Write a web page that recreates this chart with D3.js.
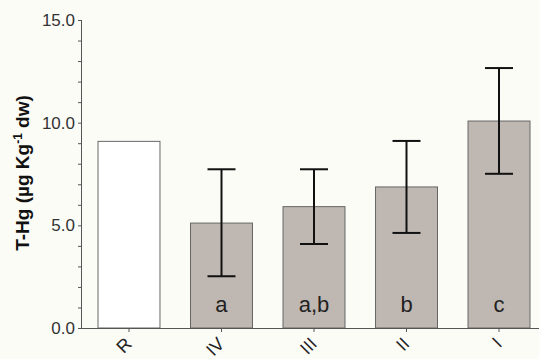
<!DOCTYPE html>
<html>
<head>
<meta charset="utf-8">
<script src="https://cdn.jsdelivr.net/npm/d3@7"></script>
<style>
    body { margin: 0; background: #fcfcf7; }
    svg { display: block; font-family: Arial, "Liberation Sans", sans-serif; }
</style>
</head>
<body>
<script>
// Chart size
const width = 539;
const height = 359;

// Data
const sites = ["R", "IV", "III", "II", "I"];
const means = [9.09, 5.11, 5.91, 6.87, 10.08];
const errUpper = [null, 7.73, 7.73, 9.11, 12.66];
const errLower = [null, 2.52, 4.09, 4.63, 7.51];
const groupLetters = ["", "a", "a,b", "b", "c"];
const yTicks = [0, 5, 10, 15];

const data = sites.map((s, i) => ({
    site: s,
    mean: means[i],
    hi: errUpper[i],
    lo: errLower[i],
    letter: groupLetters[i]
}));

const svg = d3.select("body")
    .append("svg")
    .attr("width", width)
    .attr("height", height);

// Scales
const xScale = d3.scaleBand()
    .domain(sites)
    .range([98, 530])
    .paddingInner(0.33)
    .paddingOuter(0);

const yScale = d3.scaleLinear()
    .domain([0, 15])
    .range([328, 20]);

// Bars
svg.selectAll("rect.bar")
    .data(data)
    .join("rect")
    .attr("class", "bar")
    .attr("x", d => xScale(d.site))
    .attr("y", d => yScale(d.mean))
    .attr("width", xScale.bandwidth())
    .attr("height", d => yScale(0) - yScale(d.mean))
    .attr("fill", d => d.site === "R" ? "#ffffff" : "#bfb7b1")
    .attr("stroke", "#666")
    .attr("stroke-width", 1);

// Error bars
const errData = data.filter(d => d.hi !== null);
const cx = d => xScale(d.site) + xScale.bandwidth() / 2;
const capHalf = 14;

svg.selectAll("line.err")
    .data(errData)
    .join("line")
    .attr("x1", cx).attr("x2", cx)
    .attr("y1", d => yScale(d.hi))
    .attr("y2", d => yScale(d.lo))
    .attr("stroke", "#111")
    .attr("stroke-width", 2);

["hi", "lo"].forEach(k => {
    svg.selectAll("line.cap-" + k)
        .data(errData)
        .join("line")
        .attr("class", "cap-" + k)
        .attr("x1", d => cx(d) - capHalf)
        .attr("x2", d => cx(d) + capHalf)
        .attr("y1", d => yScale(d[k]))
        .attr("y2", d => yScale(d[k]))
        .attr("stroke", "#111")
        .attr("stroke-width", 2);
});

// Group letters inside bars
svg.selectAll("text.letter")
    .data(data)
    .join("text")
    .attr("class", "letter")
    .attr("x", cx)
    .attr("y", 312)
    .attr("text-anchor", "middle")
    .attr("font-size", 22)
    .attr("fill", "#222")
    .text(d => d.letter);

// Y axis with minor ticks
const yAxis = d3.axisLeft(yScale)
    .tickValues(d3.range(0, 16, 1))
    .tickSize(4)
    .tickFormat(d => yTicks.includes(d) ? d3.format(".1f")(d) : "");

const yG = svg.append("g")
    .attr("transform", "translate(82,0)")
    .call(yAxis);
yG.select(".domain").attr("stroke", "#555").attr("d", `M-0.5,${yScale(15)}V${yScale(0)}`);
yG.selectAll(".tick line").attr("stroke", "#555");
yG.selectAll(".tick text")
    .attr("font-size", 17)
    .attr("fill", "#333")
    .attr("x", -7);

// X axis line and ticks
svg.append("line")
    .attr("x1", 82).attr("x2", width)
    .attr("y1", yScale(0) + 0.5).attr("y2", yScale(0) + 0.5)
    .attr("stroke", "#555");

svg.selectAll("line.xtick")
    .data(sites)
    .join("line")
    .attr("class", "xtick")
    .attr("x1", d => xScale(d) + xScale.bandwidth() / 2)
    .attr("x2", d => xScale(d) + xScale.bandwidth() / 2)
    .attr("y1", yScale(0))
    .attr("y2", yScale(0) + 4)
    .attr("stroke", "#555");

svg.selectAll("text.xlabel")
    .data(sites)
    .join("text")
    .attr("class", "xlabel")
    .attr("transform", d => `translate(${xScale(d) + xScale.bandwidth() / 2 + 4},${yScale(0) + 17}) rotate(-45)`)
    .attr("text-anchor", "end")
    .attr("font-size", 18)
    .attr("fill", "#222")
    .text(d => d);

// Y axis title
const yTitle = svg.append("text")
    .attr("transform", "translate(29,173) rotate(-90)")
    .attr("text-anchor", "middle")
    .attr("font-size", 19)
    .attr("font-weight", "bold")
    .attr("fill", "#111");
yTitle.append("tspan").text("T-Hg (µg Kg");
yTitle.append("tspan").attr("dy", -7).attr("font-size", 12).text("-1");
yTitle.append("tspan").attr("dy", 7).text(" dw)");
</script>
</body>
</html>
